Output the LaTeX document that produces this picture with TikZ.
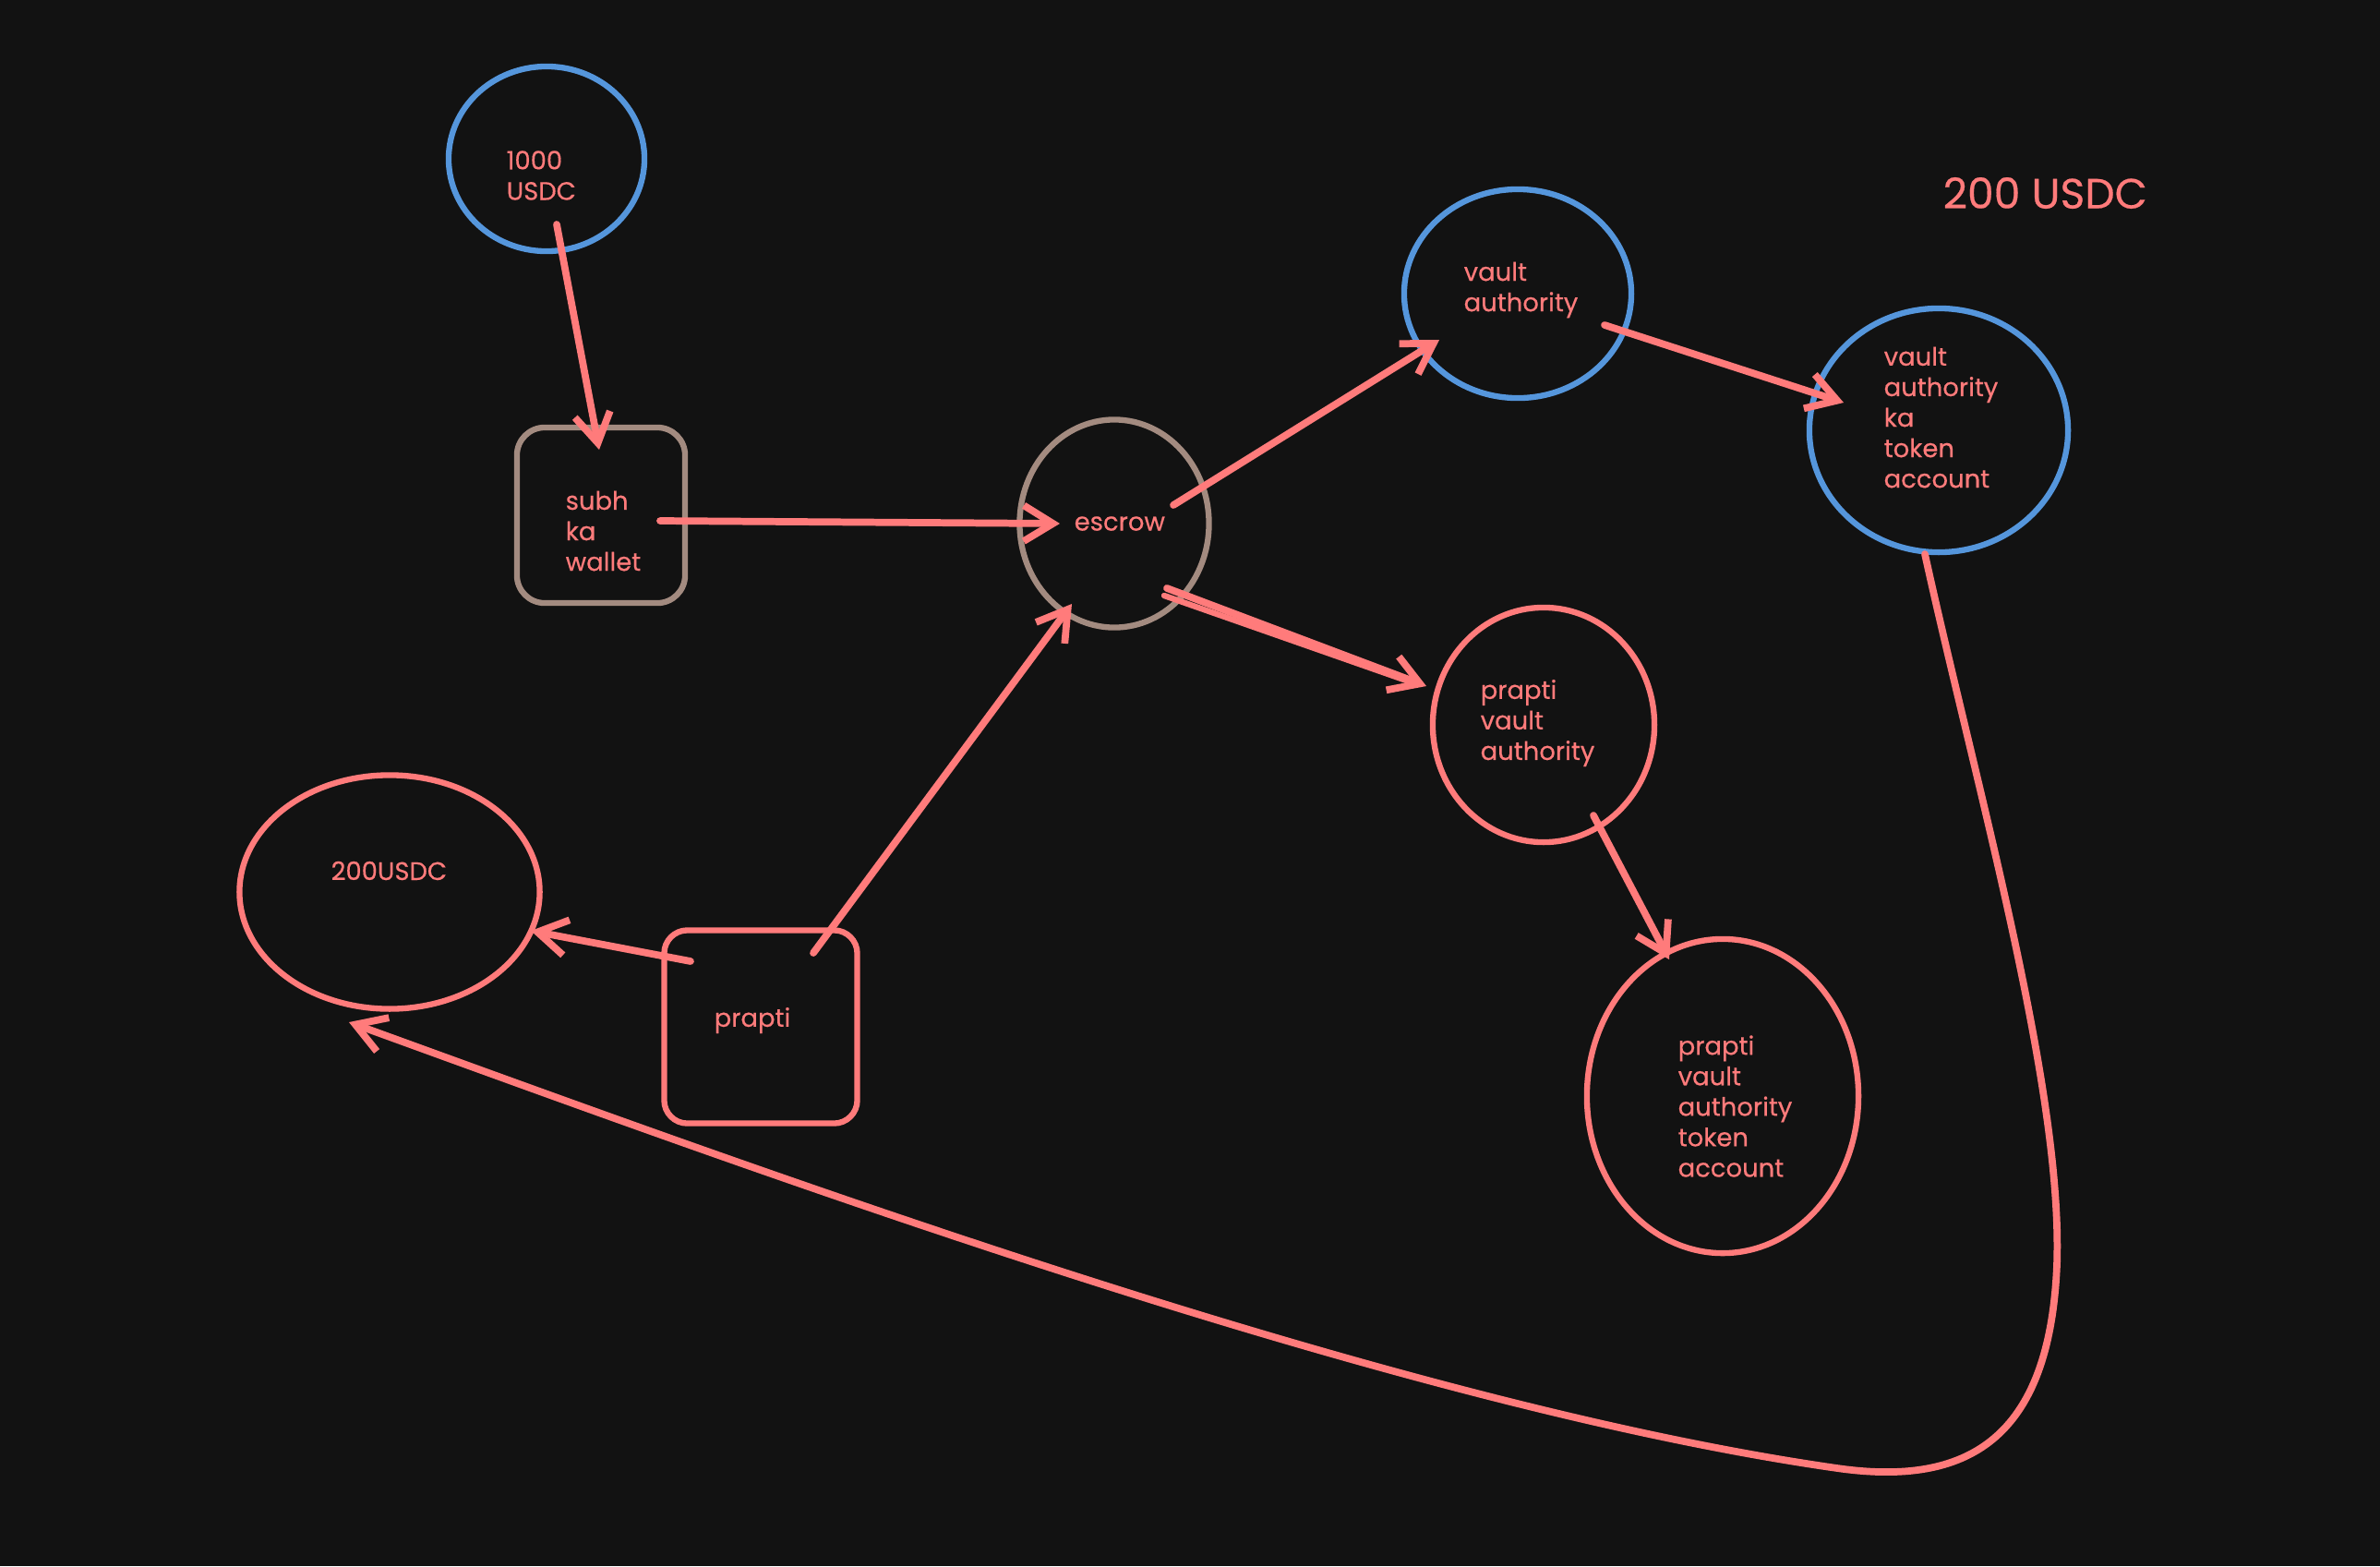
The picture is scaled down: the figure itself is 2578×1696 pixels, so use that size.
\documentclass[tikz,border=0pt]{standalone}
\usepackage{fontspec}
\setmainfont{Poppins}[FakeBold=0.4]
\usetikzlibrary{shapes.geometric,arrows.meta,calc}
\definecolor{bg}{HTML}{121212}
\definecolor{red}{HTML}{FF7B7B}
\definecolor{blu}{HTML}{5596DC}
\definecolor{brn}{HTML}{A38B80}
\begin{document}
\begin{tikzpicture}[x=0.01cm,y=-0.01cm,
  circ/.style={ellipse,draw,line width=1.8pt,inner sep=0pt},
  bx/.style={rectangle,draw,line width=1.8pt,inner sep=0pt,rounded corners=0.3cm},
  lbl/.style={text=red,align=left,anchor=west,inner sep=0pt,font=\fontsize{7.8}{9.4}\selectfont},
  arr/.style={draw=red,line width=2.2pt,line cap=round,-{Straight Barb[length=9pt,width=11pt,line width=2.2pt]}},
  ln/.style={draw=red,line width=1.8pt,line cap=round}]
\fill[bg] (0,0) rectangle (2578,1696);
\useasboundingbox (0,0) rectangle (2578,1696);
% shapes
\node[circ,draw=blu,minimum width=2.12cm,minimum height=2.00cm] (usdc) at (592,172) {};
\node[bx,draw=brn,minimum width=1.82cm,minimum height=1.90cm] (wallet) at (651,558) {};
\node[circ,draw=brn,minimum width=2.05cm,minimum height=2.25cm] (escrow) at (1207,567) {};
\node[circ,draw=blu,minimum width=2.46cm,minimum height=2.26cm] (va) at (1644,318) {};
\node[circ,draw=blu,minimum width=2.80cm,minimum height=2.64cm] (vata) at (2100,466) {};
\node[circ,draw=red,minimum width=2.40cm,minimum height=2.54cm] (pva) at (1672,785) {};
\node[circ,draw=red,minimum width=2.94cm,minimum height=3.40cm] (pvata) at (1866,1187) {};
\node[circ,draw=red,minimum width=3.25cm,minimum height=2.53cm] (u200) at (422,966) {};
\node[bx,draw=red,minimum width=2.09cm,minimum height=2.09cm,rounded corners=0.25cm] (prapti) at (824,1112) {};
% labels
\node[lbl] (tusdc) at (548,190) {1000\\USDC};
\node[lbl] (twallet) at (612,575) {subh\\ka\\wallet};
\node[lbl] (tescrow) at (1163,567) {escrow};
\node[lbl] (tva) at (1585,314) {vault\\authority};
\node[lbl] (tvata) at (2040,452) {vault\\authority\\ka\\token\\account};
\node[lbl] (tpva) at (1603,783) {prapti\\vault\\authority};
\node[lbl] (tpvata) at (1817,1198) {prapti\\vault\\authority\\token\\account};
\node[lbl] (tu200) at (358,943) {200USDC};
\node[lbl] (tprapti) at (773,1105) {prapti};
\node[lbl,font=\fontsize{13}{15}\selectfont] (t200) at (2104,209) {200 USDC};
% connectors
\draw[arr] ($(usdc.center)+(11,71)$) -- ($(wallet.center)+(-2,-71)$);
\draw[arr] ($(wallet.center)+(64,6)$) -- ($(escrow.center)+(-59,0)$);
\draw[arr] ($(escrow.center)+(64,-20)$) -- ($(va.center)+(-85,50)$);
\draw[arr] ($(va.center)+(94,34)$) -- ($(vata.center)+(-103,-30)$);
\draw[arr] ($(escrow.center)+(57,70)$) -- ($(pva.center)+(-127,-42)$);
\draw[ln] ($(escrow.center)+(54,78)$) -- ($(pva.center)+(-140,-45)$);
\draw[arr] ($(pva.center)+(54,98)$) -- ($(pvata.center)+(-58,-148)$);
\draw[arr] ($(prapti.center)+(57,-80)$) -- ($(escrow.center)+(-46,87)$);
\draw[arr] ($(prapti.center)+(-76,-71)$) -- ($(u200.center)+(153,42)$);
\draw[arr] ($(vata.center)+(-15,134)$) .. controls (2140,850) and (2235,1180) .. (2228,1370)
  .. controls (2220,1560) and (2130,1610) .. (1990,1590)
  .. controls (1500,1520) and (800,1260) .. ($(u200.center)+(-44,141)$);
\end{tikzpicture}
\end{document}
